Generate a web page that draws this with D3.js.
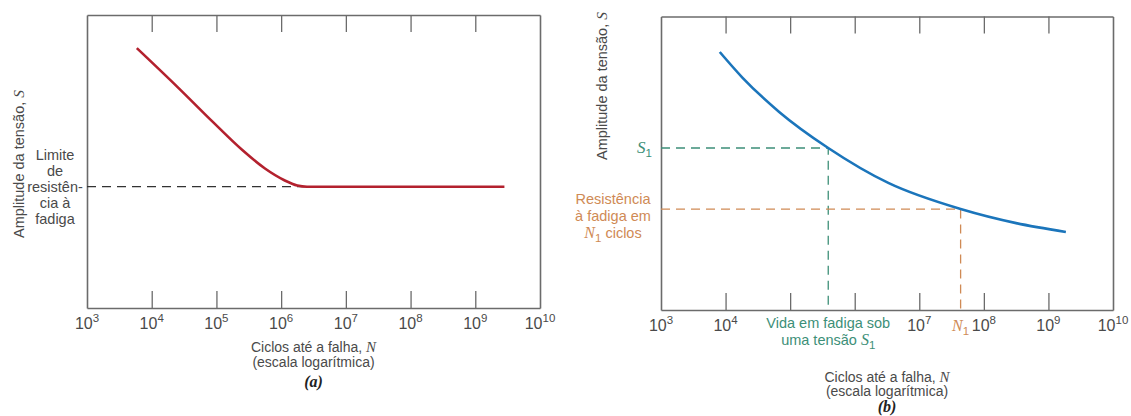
<!DOCTYPE html>
<html lang="pt">
<head>
<meta charset="utf-8">
<title>Curvas S-N</title>
<script src="https://d3js.org/d3.v7.min.js"></script>
<style>
  body { margin: 0; background: #fff; }
  svg text { font-family: "Liberation Sans", Arial, sans-serif; fill: #4a4a4a; }
  .serif { font-family: "Liberation Serif", "DejaVu Serif", serif !important; font-style: italic; }
</style>
</head>
<body>
<div id="vis"></div>
<script>
// expoentes dos ticks (10^n)
const exponents = [3, 4, 5, 6, 7, 8, 9, 10];

// curva (a): log10(N) e amplitude S (escala arbitraria 0-100)
const curveA_logN = [3.77, 4.40, 4.94, 5.40, 5.75, 6.05, 6.25, 6.40, 9.45];
const curveA_S    = [88.7, 75.4, 63.6, 53.9, 47.6, 43.6, 41.8, 41.4, 41.4];
const enduranceLimit = 41.4;

// curva (b)
const curveB_logN = [3.91, 4.26, 4.83, 5.59, 6.52, 7.64, 8.50, 9.27];
const curveB_S    = [87.9, 79.2, 67.5, 55.2, 43.3, 34.4, 29.6, 26.6];
const S1 = 55.2, logN_S1 = 5.59;
const strengthN1 = 34.4, logN1 = 7.64;

// expoentes com rotulo no painel (b)
const labelsB = [3, 4, 7, 8, 9, 10];

const width = 1131, height = 416;
const gray = "#6b6b6b";
const red = "#b3212e", blue = "#1b75bb", green = "#3d8f78", orange = "#cf8a55";

const svg = d3.select("#vis").append("svg")
    .attr("width", width)
    .attr("height", height);

function frame(p) {
    const x = d3.scaleLog().domain([1e3, 1e10]).range([p.left, p.right]);
    const y = d3.scaleLinear().domain([0, 100]).range([p.bottom, p.top]);
    const inner = exponents.slice(1, -1).map(e => 10 ** e);

    const axes = [
        svg.append("g").attr("transform", `translate(0,${p.bottom})`)
            .call(d3.axisBottom(x).tickValues(inner).tickSize(-17).tickSizeOuter(0).tickFormat("")),
        svg.append("g").attr("transform", `translate(0,${p.top})`)
            .call(d3.axisTop(x).tickValues(inner).tickSize(-17).tickSizeOuter(0).tickFormat("")),
        svg.append("g").attr("transform", `translate(${p.left},0)`)
            .call(d3.axisLeft(y).tickValues([]).tickSizeOuter(0)),
        svg.append("g").attr("transform", `translate(${p.right},0)`)
            .call(d3.axisRight(y).tickValues([]).tickSizeOuter(0))
    ];
    axes.forEach(a => {
        a.select(".domain").attr("stroke", gray).attr("stroke-width", 1.6);
        a.selectAll(".tick line").attr("stroke", gray).attr("stroke-width", 1.3);
    });
    return {x, y};
}

function tickLabels(x, list, baseline) {
    const t = svg.append("g").selectAll("text")
        .data(list)
        .join("text")
        .attr("x", d => x(10 ** d))
        .attr("y", baseline)
        .attr("text-anchor", "middle")
        .attr("font-size", 16);
    t.append("tspan").text("10");
    t.append("tspan").attr("dy", -7).attr("font-size", 11.5).text(d => d);
}

function xTitle(cx, y0, tag, lineGap, tagGap) {
    const t = svg.append("text")
        .attr("x", cx).attr("y", y0)
        .attr("text-anchor", "middle")
        .attr("font-size", 14);
    t.append("tspan").text("Ciclos até a falha, ");
    t.append("tspan").attr("class", "serif").attr("font-size", 15).text("N");
    svg.append("text")
        .attr("x", cx).attr("y", y0 + lineGap)
        .attr("text-anchor", "middle")
        .attr("font-size", 14)
        .text("(escala logarítmica)");
    svg.append("text")
        .attr("class", "serif")
        .attr("x", cx).attr("y", y0 + tagGap)
        .attr("text-anchor", "middle")
        .attr("font-size", 16)
        .attr("font-weight", "bold")
        .style("fill", "#222")
        .text(tag);
}

function yTitle(x0, y0, anchor) {
    const t = svg.append("text")
        .attr("transform", `translate(${x0},${y0}) rotate(-90)`)
        .attr("text-anchor", anchor)
        .attr("font-size", 14.5);
    t.append("tspan").text("Amplitude da tensão, ");
    t.append("tspan").attr("class", "serif").attr("font-size", 15.5).text("S");
}

const line = (sc) => d3.line()
    .x(d => sc.x(10 ** d[0]))
    .y(d => sc.y(d[1]))
    .curve(d3.curveMonotoneX);

// ---------- painel (a) ----------
const pa = {left: 87, right: 540, top: 15, bottom: 308};
const A = frame(pa);

// limite de fadiga tracejado
svg.append("line")
    .attr("x1", pa.left).attr("x2", A.x(10 ** curveA_logN[7]))
    .attr("y1", A.y(enduranceLimit)).attr("y2", A.y(enduranceLimit))
    .attr("stroke", "#333").attr("stroke-width", 1.2)
    .attr("stroke-dasharray", "9,6");

svg.append("path")
    .datum(d3.zip(curveA_logN, curveA_S))
    .attr("d", line(A))
    .attr("fill", "none")
    .attr("stroke", red)
    .attr("stroke-width", 2.6);

tickLabels(A.x, exponents, 329);
xTitle((pa.left + pa.right) / 2, 352, "(a)", 15, 35);
yTitle(24, 164, "middle");

svg.append("g").selectAll("text")
    .data(["Limite", "de", "resistên-", "cia à", "fadiga"])
    .join("text")
    .attr("x", 55)
    .attr("y", (d, i) => 160 + i * 16)
    .attr("text-anchor", "middle")
    .attr("font-size", 14.5)
    .text(d => d);

// ---------- painel (b) ----------
const pb = {left: 661, right: 1113, top: 16.5, bottom: 310};
const B = frame(pb);

// S1 -> vida em fadiga (verde)
svg.append("path")
    .attr("d", `M${pb.left},${B.y(S1)}H${B.x(10 ** logN_S1)}V${pb.bottom}`)
    .attr("fill", "none")
    .attr("stroke", green).attr("stroke-width", 1.3)
    .attr("stroke-dasharray", "9,6");

// N1 -> resistencia a fadiga (laranja)
svg.append("path")
    .attr("d", `M${pb.left},${B.y(strengthN1)}H${B.x(10 ** logN1)}V${pb.bottom}`)
    .attr("fill", "none")
    .attr("stroke", orange).attr("stroke-width", 1.3)
    .attr("stroke-dasharray", "9,6");

svg.append("path")
    .datum(d3.zip(curveB_logN, curveB_S))
    .attr("d", line(B))
    .attr("fill", "none")
    .attr("stroke", blue)
    .attr("stroke-width", 2.6);

tickLabels(B.x, labelsB, 331);
xTitle((pb.left + pb.right) / 2, 382, "(b)", 14, 30);
yTitle(607, 12, "end");

// S1
const s1 = svg.append("text")
    .attr("x", 652).attr("y", B.y(S1) + 5)
    .attr("text-anchor", "end")
    .attr("font-size", 17);
s1.append("tspan").attr("class", "serif").style("fill", green).text("S");
s1.append("tspan").attr("dy", 4).attr("font-size", 11.5).style("fill", green).text("1");

// rotulo laranja
const oc = 613;
svg.append("text").attr("x", oc).attr("y", 204).attr("text-anchor", "middle")
    .attr("font-size", 14.5).style("fill", orange).text("Resistência");
svg.append("text").attr("x", oc).attr("y", 221).attr("text-anchor", "middle")
    .attr("font-size", 14.5).style("fill", orange).text("à fadiga em");
const nc = svg.append("text").attr("x", oc).attr("y", 238).attr("text-anchor", "middle")
    .attr("font-size", 14.5).style("fill", orange);
nc.append("tspan").attr("class", "serif").attr("font-size", 16).text("N");
nc.append("tspan").attr("dy", 4).attr("font-size", 11.5).text("1");
nc.append("tspan").attr("dy", -4).text(" ciclos");

// N1 no eixo
const n1 = svg.append("text")
    .attr("x", B.x(10 ** logN1)).attr("y", 331)
    .attr("text-anchor", "middle")
    .attr("font-size", 16)
    .style("fill", orange);
n1.append("tspan").attr("class", "serif").text("N");
n1.append("tspan").attr("dy", 4).attr("font-size", 11.5).text("1");

// vida em fadiga sob S1
const vx = B.x(10 ** logN_S1);
svg.append("text").attr("x", vx).attr("y", 328).attr("text-anchor", "middle")
    .attr("font-size", 14.5).style("fill", green).text("Vida em fadiga sob");
const ut = svg.append("text").attr("x", vx).attr("y", 345).attr("text-anchor", "middle")
    .attr("font-size", 14.5).style("fill", green);
ut.append("tspan").text("uma tensão ");
ut.append("tspan").attr("class", "serif").attr("font-size", 16).text("S");
ut.append("tspan").attr("dy", 4).attr("font-size", 11.5).text("1");
</script>
</body>
</html>
